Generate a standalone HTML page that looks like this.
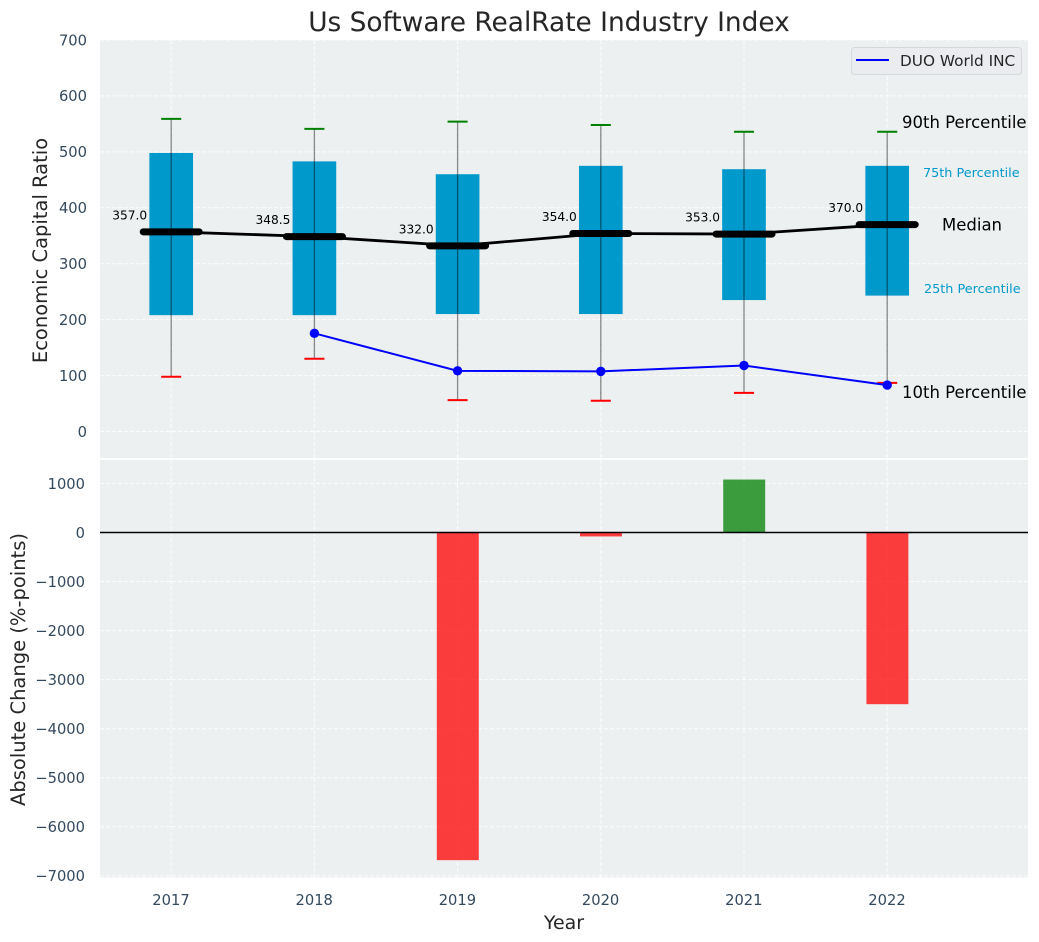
<!DOCTYPE html>
<html>
<head>
<meta charset="utf-8">
<title>Us Software RealRate Industry Index</title>
<style>
html,body{margin:0;padding:0;background:#fff;}
svg{display:block;font-family:"DejaVu Sans","Liberation Sans",sans-serif;}
</style>
</head>
<body>
<svg id="chart" xmlns="http://www.w3.org/2000/svg" width="1039" height="942" viewBox="0 0 1039 942"></svg>
<script>
const years = [2017, 2018, 2019, 2020, 2021, 2022];
const p90 = [559, 541, 554, 548, 536, 536];
const p75 = [498, 483, 460, 475, 469, 475];
const medians = [357, 348.5, 332, 354, 353, 370];
const p25 = [208, 208, 210, 210, 235, 243];
const p10 = [98, 130, 56, 55, 69, 87];
const duo = [null, 175.5, 108.5, 107.5, 118, 83];
const changes = [null, null, -6680, -80, 1080, -3500];
const topTicks = [0, 100, 200, 300, 400, 500, 600, 700];
const bottomTicks = [1000, 0, -1000, -2000, -3000, -4000, -5000, -6000, -7000];

const svg = document.getElementById('chart');
const NS = 'http://www.w3.org/2000/svg';
const L = 100, R = 1028, T1 = 40, B1 = 458, T2 = 460, B2 = 877.5;
const xS = v => 171.2 + (v - 2017) * 143.2;
const y1 = v => 431.5 - v * 0.55929;
const y2 = v => 532.5 - v * 0.04905;
const BOXW = 0.305, MEDW = 0.44, CAPW = 0.14, BARW = 0.293;
const TICKC = '#34495e', TXT = '#262626';

function mk(tag, props, text) {
  const e = document.createElementNS(NS, tag);
  for (const k in props) e.setAttribute(k, props[k]);
  if (text !== undefined) e.textContent = text;
  svg.appendChild(e);
  return e;
}
let el;

el = mk('rect', {x: L, y: T1, width: R - L, height: B1 - T1, fill: '#ecf0f1'});


el = mk('rect', {x: L, y: T2, width: R - L, height: B2 - T2, fill: '#ecf0f1'});



const grid = {stroke: '#ffffff', 'stroke-width': 1, 'stroke-dasharray': '4,2', opacity: 0.85};
years.forEach(yr => {
  el = mk('line', Object.assign({x1: xS(yr), x2: xS(yr), y1: T1, y2: B1}, grid));
  
  
  el = mk('line', Object.assign({x1: xS(yr), x2: xS(yr), y1: T2, y2: B2}, grid));
  
  
});
topTicks.forEach(t => {
  el = mk('line', Object.assign({x1: L, x2: R, y1: y1(t), y2: y1(t)}, grid));
  
  
  el = mk('text', {x: 87, y: y1(t) + 5.3, 'text-anchor': 'end', 'font-size': 14.7, fill: TICKC}, String(t));
  
  
});
bottomTicks.forEach(t => {
  el = mk('line', Object.assign({x1: L, x2: R, y1: y2(t), y2: y2(t)}, grid));
  
  
  el = mk('text', {x: 85, y: y2(t) + 5.3, 'text-anchor': 'end', 'font-size': 14.7, fill: TICKC}, String(t).replace('-', '\u2212'));
  
  
});

// boxes
years.forEach((yr, i) => {
  const cx = xS(yr), half = (xS(BOXW) - xS(0)) / 2;
  el = mk('rect', {x: cx - half, y: y1(p75[i]), width: half * 2, height: y1(p25[i]) - y1(p75[i]), fill: '#0099cc'});
  
  
  el = mk('line', {x1: cx, x2: cx, y1: y1(p90[i]), y2: y1(p10[i]), stroke: '#000', 'stroke-opacity': 0.45, 'stroke-width': 1.3});
  
  
  const capHalf = (xS(CAPW) - xS(0)) / 2;
  el = mk('line', {x1: cx - capHalf, x2: cx + capHalf, y1: y1(p90[i]), y2: y1(p90[i]), stroke: '#008000', 'stroke-width': 2});
  
  
  el = mk('line', {x1: cx - capHalf, x2: cx + capHalf, y1: y1(p10[i]), y2: y1(p10[i]), stroke: '#ff0000', 'stroke-width': 2});
  
  
});

// median connector
el = mk('polyline', {points: years.map((yr, i) => xS(yr) + ',' + y1(medians[i])).join(' '), fill: 'none', stroke: '#000', 'stroke-width': 2.8});



years.forEach((yr, i) => {
  const cx = xS(yr), half = (xS(MEDW) - xS(0)) / 2;
  el = mk('line', {x1: cx - half + 3.5, x2: cx + half - 3.5, y1: y1(medians[i]), y2: y1(medians[i]), stroke: '#000', 'stroke-width': 7, 'stroke-linecap': 'round'});
  
  
  el = mk('text', {x: cx - 24, y: y1(medians[i]) - 12.5, 'text-anchor': 'end', 'font-size': 12.2, fill: '#000'}, medians[i].toFixed(1));
  
  
});

// DUO series
const duoPts = years.map((yr, i) => duo[i] === null ? null : xS(yr) + ',' + y1(duo[i])).filter(Boolean);
el = mk('polyline', {points: duoPts.join(' '), fill: 'none', stroke: '#0000ff', 'stroke-width': 2});


years.forEach((yr, i) => {
  if (duo[i] === null) return;
  el = mk('circle', {cx: xS(yr), cy: y1(duo[i]), r: 4.7, fill: '#0000ff'});
  
  
});

// change bars
years.forEach((yr, i) => {
  const v = changes[i];
  if (v === null) return;
  const half = (xS(BARW) - xS(0)) / 2;
  el = mk('rect', {x: xS(yr) - half + 0.2, y: Math.min(y2(v), y2(0)), width: half * 2, height: Math.abs(y2(v) - y2(0)), fill: v < 0 ? '#ff0000' : '#008000', 'fill-opacity': 0.75});
  
  
});
el = mk('line', {x1: L, x2: R, y1: y2(0), y2: y2(0), stroke: '#000', 'stroke-width': 1.5});



// x tick labels
years.forEach(yr => {
  el = mk('text', {x: xS(yr) - 0.2, y: 905, 'text-anchor': 'middle', 'font-size': 14.7, fill: TICKC}, String(yr));
  
  
});

// annotations for the last box
el = mk('text', {x: 902, y: 128, 'font-size': 16.5, fill: '#000'}, '90th Percentile');


el = mk('text', {x: 902, y: 398, 'font-size': 16.5, fill: '#000'}, '10th Percentile');


el = mk('text', {x: 942, y: 230.5, 'font-size': 16.5, fill: '#000'}, 'Median');


el = mk('text', {x: 923, y: 177, 'font-size': 12.8, fill: '#0099cc'}, '75th Percentile');


el = mk('text', {x: 924, y: 293, 'font-size': 12.8, fill: '#0099cc'}, '25th Percentile');



// titles
el = mk('text', {x: 549, y: 31, 'text-anchor': 'middle', 'font-size': 26.4, fill: TXT}, 'Us Software RealRate Industry Index');


el = mk('text', {x: 564, y: 929, 'text-anchor': 'middle', 'font-size': 19, fill: TXT}, 'Year');


el = mk('text', {transform: 'translate(47,250.5) rotate(-90)', 'text-anchor': 'middle', 'font-size': 19.5, fill: TXT}, 'Economic Capital Ratio');


el = mk('text', {transform: 'translate(25,669.5) rotate(-90)', 'text-anchor': 'middle', 'font-size': 19.5, fill: TXT}, 'Absolute Change (%-points)');



// legend
el = mk('rect', {x: 851.5, y: 47.5, width: 170, height: 27, rx: 3, fill: '#eaecf0', stroke: '#d5d7da', 'stroke-width': 1});


el = mk('line', {x1: 856, x2: 889, y1: 60, y2: 60, stroke: '#0000ff', 'stroke-width': 2});


el = mk('text', {x: 900, y: 66, 'font-size': 15.3, fill: TXT}, 'DUO World INC');


</script>
</body>
</html>
